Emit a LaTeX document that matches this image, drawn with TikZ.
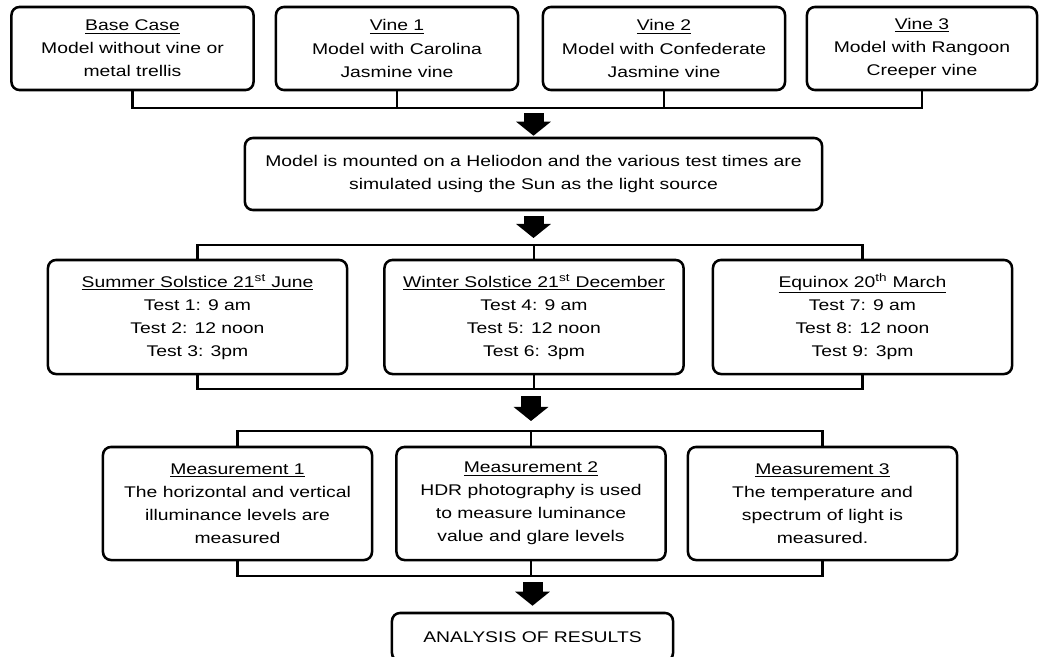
\documentclass[tikz,border=0pt]{standalone}
\usepackage{fontspec}
\setmainfont{Liberation Sans}[FakeStretch=1.25]
\usetikzlibrary{arrows.meta}

\begin{document}
\begin{tikzpicture}[
    x=0.025cm, y=-0.025cm,
    line/.style     = {line width=1.8pt},
    block/.style    = {draw, line width=1.8pt, rounded corners=0.2cm, fill=white,
                       align=center, inner sep=0pt,
                       font=\fontsize{11}{16.4}\selectfont},
    topbox/.style   = {block, minimum width=6.05cm, minimum height=2.075cm},
    testbox/.style  = {block, minimum width=7.475cm, minimum height=2.85cm},
    measbox/.style  = {block, minimum width=6.725cm, minimum height=2.825cm},
    bigarrow/.style = {line width=0.5cm, -{Triangle[length=0.35cm, width=0.85cm]}}
]
\useasboundingbox (0,0) rectangle (1041,657);

% model variants
\node[topbox] (base)  at (132.5,48.5) {\underline{Base Case}\\Model without vine or\\metal trellis};
\node[topbox] (vine1) at (397,48.5)   {\underline{Vine 1}\\Model with Carolina\\Jasmine vine};
\node[topbox] (vine2) at (664,48.5)   {\underline{Vine 2}\\Model with Confederate\\Jasmine vine};
\node[topbox, minimum width=5.75cm] (vine3) at (922,48.5) {\underline{Vine 3}\\Model with Rangoon\\Creeper vine};

% heliodon
\node[block, minimum width=14.425cm, minimum height=1.8cm] (helio) at (533.5,174)
    {Model is mounted on a Heliodon and the various test times are\\simulated using the Sun as the light source};

% test dates
\node[testbox] (summer)  at (197.5,317) {\underline{Summer Solstice 21\textsuperscript{st} June}\\Test 1: 9 am\\Test 2: 12 noon\\Test 3: 3pm};
\node[testbox] (winter)  at (534,317)   {\underline{Winter Solstice 21\textsuperscript{st} December}\\Test 4: 9 am\\Test 5: 12 noon\\Test 6: 3pm};
\node[testbox] (equinox) at (862.5,317) {\underline{Equinox 20\textsuperscript{th} March}\\Test 7: 9 am\\Test 8: 12 noon\\Test 9: 3pm};

% measurements
\node[measbox] (meas1) at (237.5,503.5) {\underline{Measurement 1}\\The horizontal and vertical\\illuminance levels are\\measured};
\node[measbox] (meas2) at (531,503.5)   {\underline{Measurement 2}\\HDR photography is used\\to measure luminance\\value and glare levels};
\node[measbox] (meas3) at (822.5,503.5) {\underline{Measurement 3}\\The temperature and\\spectrum of light is\\measured.};

\node[block, minimum width=7.025cm, minimum height=1.2cm] (analysis) at (532.5,637) {ANALYSIS OF RESULTS};

% collecting bars
\coordinate (topbar)  at (533.5,108);
\coordinate (testtop) at (530,245);
\coordinate (testbot) at (531,389);
\coordinate (meastop) at (531,431);
\coordinate (measbot) at (532.5,576);

\draw[line] (base.south) |- (topbar) -| (vine3.south);
\foreach \n in {vine1, vine2}
    \draw[line] (\n.south) -- (\n.south |- topbar);

\draw[line] (summer.north) |- (testtop) -| (equinox.north);
\draw[line] (winter.north) -- (winter.north |- testtop);
\draw[line] (summer.south) |- (testbot) -| (equinox.south);
\draw[line] (winter.south) -- (winter.south |- testbot);

\draw[line] (meas1.north) |- (meastop) -| (meas3.north);
\draw[line] (meas2.north) -- (meas2.north |- meastop);
\draw[line] (meas1.south) |- (measbot) -| (meas3.south);
\draw[line] (meas2.south) -- (meas2.south |- measbot);

% block arrows
\draw[bigarrow, shorten <=0.125cm, shorten >=0.025cm] (topbar) -- (helio.north);
\draw[bigarrow, shorten <=0.125cm, shorten >=0.175cm] (helio.south) -- (helio.south |- testtop);
\draw[bigarrow, shorten <=0.175cm, shorten >=0.25cm]  (testbot) -- (testbot |- meastop);
\draw[bigarrow, shorten <=0.15cm, shorten >=0.15cm]   (measbot) -- (analysis.north);

\end{tikzpicture}
\end{document}
